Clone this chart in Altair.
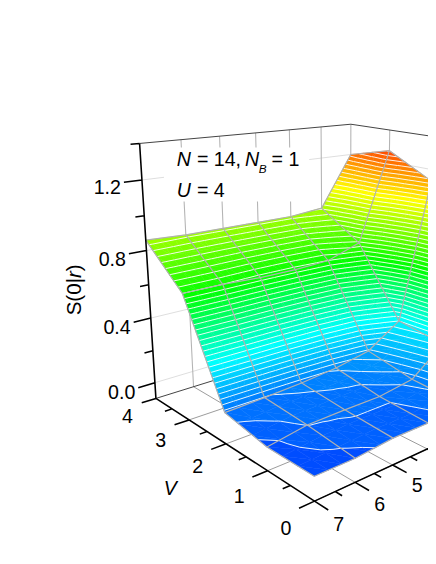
import numpy as np
import pandas as pd
import altair as alt

# ---- data ----
R_VALUES = [7, 6, 5, 4, 3, 2, 1]
V_VALUES = [4, 3, 2, 1, 0]
S_V4 = [0.86, 0.85, 0.85, 0.85, 0.85, 0.87, 1.20]
S_V3 = [0.64, 0.64, 0.63, 0.63, 0.64, 0.71, 1.27]
S_V2 = [0.08, 0.088, 0.10, 0.12, 0.16, 0.29, 1.13]
S_V1 = [0.03, 0.066, 0.07, 0.07, 0.10, 0.25, 1.00]
S_V0 = [0.03, 0.03, 0.05, 0.05, 0.08, 0.20, 0.85]
S_TICKS = [0.0, 0.4, 0.8, 1.2]
S_MINOR = [0.2, 0.6, 1.0, 1.4]
S_LABELS = ["0.0", "0.4", "0.8", "1.2"]
V_TICKS = [0, 1, 2, 3, 4]
V_MINOR = [0.5, 1.5, 2.5, 3.5]
R_TICKS = [7, 6, 5, 4, 3, 2, 1]
R_MINOR = [6.5, 5.5, 4.5, 3.5, 2.5, 1.5]
R_LABELS = [7, 6, 5]

S_LOW, S_HIGH = -0.1, 1.4
W, H = 428, 548
SHIFT_X, SHIFT_Y = -8, -8
FONT = "Liberation Sans"

# perspective camera, fitted to where the axis corners sit in the picture
CAMERA_ANCHORS = [
    (7, 4, -0.1, 159, 401), (7, 0, -0.1, 320, 504), (7, 4, 1.4, 143, 140),
    (1, 4, 1.4, 358, 122), (1, 4, -0.1, 357, 338), (6, 0, -0.1, 362, 487),
    (5, 0, -0.1, 400, 470), (7, 3, -0.1, 192, 422), (7, 2, -0.1, 230, 447),
    (7, 1, -0.1, 273, 473), (7, 4, 0.0, 158, 385), (7, 4, 0.4, 153, 320),
    (7, 4, 0.8, 149, 250), (7, 4, 1.2, 145, 178), (5, 4, 1.4, 223, 133),
    (4, 4, 1.4, 260, 130), (3, 4, 1.4, 294, 127), (2, 4, 1.4, 327, 124),
    (1, 3, 1.4, 397, 127), (6, 4, -0.1, 197, 389),
]
A, b = [], []
for r, v, s, px, py in CAMERA_ANCHORS:
    A.append([r, v, s, 1, 0, 0, 0, 0, -px * r, -px * v, -px * s]); b.append(px)
    A.append([0, 0, 0, 0, r, v, s, 1, -py * r, -py * v, -py * s]); b.append(py)
P = np.linalg.lstsq(np.array(A, float), np.array(b, float), rcond=None)[0]


def proj(r, v, s):
    w = P[8] * r + P[9] * v + P[10] * s + 1
    return (round(float((P[0] * r + P[1] * v + P[2] * s + P[3]) / w), 2),
            round(float((P[4] * r + P[5] * v + P[6] * s + P[7]) / w), 2))


STOPS = [(-0.1, (0, 0, 255)), (0.30, (0, 255, 255)), (0.62, (0, 255, 0)),
         (1.0, (255, 255, 0)), (1.37, (255, 0, 0))]


def colour(s):
    xs = [t[0] for t in STOPS]
    c = [np.interp(s, xs, [t[1][i] for t in STOPS]) for i in range(3)]
    return "#%02x%02x%02x" % tuple(int(round(x)) for x in c)


def seg(pts):
    return [list(proj(*p)) for p in pts]


def feature(kind, coords):
    return {"type": "Feature", "geometry": {"type": kind, "coordinates": coords},
            "properties": {}}


grid = np.array([S_V4, S_V3, S_V2, S_V1, S_V0])
levels = [0.0403 + 0.025 * i for i in range(56)]
edges = [-1.0] + levels + [2.0]
N_SUB = 3


def clip(poly, lo, hi):
    def cut(pts, keep, val):
        out = []
        for i in range(len(pts)):
            a, b_ = pts[i], pts[(i + 1) % len(pts)]
            ka, kb = keep(a[2]), keep(b_[2])
            if ka:
                out.append(a)
            if ka != kb:
                t = (val - a[2]) / (b_[2] - a[2])
                out.append(tuple(a[k] + t * (b_[k] - a[k]) for k in range(3)))
        return out
    pts = cut(poly, lambda z: z >= lo, lo)
    if pts:
        pts = cut(pts, lambda z: z <= hi, hi)
    return pts


fills = []
contours = []
for ci in range(len(R_VALUES) - 2, -1, -1):        # far to near
    for vi in range(len(V_VALUES) - 1):
        r0, r1 = R_VALUES[ci], R_VALUES[ci + 1]
        v0, v1 = V_VALUES[vi], V_VALUES[vi + 1]
        s00, s01, s10, s11 = grid[vi, ci], grid[vi, ci + 1], grid[vi + 1, ci], grid[vi + 1, ci + 1]

        def bil(u, t):
            return (r0 + (r1 - r0) * u, v0 + (v1 - v0) * t,
                    (1 - u) * (1 - t) * s00 + u * (1 - t) * s01 + (1 - u) * t * s10 + u * t * s11)
        for a in range(N_SUB):
            for c in range(N_SUB):
                q = [bil(a / N_SUB, c / N_SUB), bil((a + 1) / N_SUB, c / N_SUB),
                     bil((a + 1) / N_SUB, (c + 1) / N_SUB), bil(a / N_SUB, (c + 1) / N_SUB)]
                for tri in ([q[0], q[1], q[2]], [q[0], q[2], q[3]]):
                    zs = [p[2] for p in tri]
                    for i in range(len(edges) - 1):
                        lo, hi = edges[i], edges[i + 1]
                        if max(zs) < lo or min(zs) > hi:
                            continue
                        poly = clip(tri, lo, hi)
                        if len(poly) >= 3:
                            ring = seg(poly)
                            ring.append(ring[0])
                            mid = (max(lo, 0.0) + min(hi, 1.5)) / 2
                            f = feature("Polygon", [ring])
                            f["properties"]["c"] = colour(mid)
                            fills.append(f)
                    for L in levels:
                        pts = []
                        for i in range(3):
                            p, q2 = tri[i], tri[(i + 1) % 3]
                            if (p[2] - L) * (q2[2] - L) < 0:
                                t = (L - p[2]) / (q2[2] - p[2])
                                pts.append(tuple(p[k] + t * (q2[k] - p[k]) for k in range(3)))
                        if len(pts) == 2:
                            contours.append(seg(pts))

mesh = []
for vi, v in enumerate(V_VALUES):
    mesh.append(seg([(r, v, grid[vi, i]) for i, r in enumerate(R_VALUES)]))
for i, r in enumerate(R_VALUES):
    mesh.append(seg([(r, v, grid[vi, i]) for vi, v in enumerate(V_VALUES)]))

# walls and floor
wall_light = []
for s in S_TICKS:
    wall_light.append(seg([(7, 4, s), (1, 4, s), (1, 0, s)]))
wall_grey = []
for r in R_TICKS[1:]:
    wall_grey.append(seg([(r, 4, S_LOW), (r, 4, S_HIGH)]))
for v in V_TICKS[:-1]:
    wall_grey.append(seg([(1, v, S_LOW), (1, v, S_HIGH)]))
floor = []
for r in R_TICKS[1:]:
    floor.append(seg([(r, 0, S_LOW), (r, 4, S_LOW)]))
for v in V_TICKS[:-1]:
    floor.append(seg([(7, v, S_LOW), (1, v, S_LOW)]))
edges_dark = [seg([(7, 4, S_HIGH), (1, 4, S_HIGH), (1, 0, S_HIGH)]),
              seg([(7, 4, S_LOW), (1, 4, S_LOW), (1, 0, S_LOW)])]

axes = [seg([(7, 4, S_LOW), (7, 4, S_HIGH)]),
        seg([(7, 4, S_LOW), (7, 0, S_LOW)]),
        seg([(7, 0, S_LOW), (1, 0, S_LOW)])]
S_DR, V_DR, R_DV = 0.42, 0.36, 0.27
for s in S_TICKS:
    axes.append(seg([(7, 4, s), (7 + S_DR, 4, s)]))
for s in S_MINOR:
    axes.append(seg([(7, 4, s), (7 + S_DR / 2, 4, s)]))
for v in V_TICKS:
    axes.append(seg([(7, v, S_LOW), (7 + V_DR, v, S_LOW)]))
for v in V_MINOR:
    axes.append(seg([(7, v, S_LOW), (7 + V_DR / 2, v, S_LOW)]))
for r in R_TICKS:
    axes.append(seg([(r, 0, S_LOW), (r, -R_DV, S_LOW)]))
for r in R_MINOR:
    axes.append(seg([(r, 0, S_LOW), (r, -R_DV / 2, S_LOW)]))


def lines(paths, colour_, width, opacity=1.0):
    return alt.Chart(alt.Data(values=[feature("MultiLineString", paths)])).mark_geoshape(
        filled=False, stroke=colour_, strokeWidth=width, opacity=opacity, clip=True,
        strokeCap="butt", strokeJoin="miter")


box = alt.Chart(alt.Data(values=[feature(
    "Polygon", [[[167, 145], [315, 145], [315, 200], [167, 200], [167, 145]]])])).mark_geoshape(
    fill="white", stroke=None, clip=True)

surface = alt.Chart(alt.Data(values=fills)).mark_geoshape(clip=True, strokeWidth=0.5).encode(
    fill=alt.Fill("properties.c:N", scale=None),
    stroke=alt.Stroke("properties.c:N", scale=None))

# texts
rows = []
for s, lab in zip(S_TICKS, S_LABELS):
    x, y = proj(7 + S_DR, 4, s)
    rows.append(dict(x=x - 3, y=y + 6, t=lab, a="right", st="normal", base="middle", size=20, angle=0))
for v in V_TICKS:
    x, y = proj(7, v, S_LOW)
    rows.append(dict(x=x - 29, y=y + 19 + 2.5 * (4 - v), t=str(v), a="center", st="normal", base="middle", size=20, angle=0))
for r in R_LABELS:
    x, y = proj(r, -0.47, S_LOW)
    rows.append(dict(x=x, y=y + 8, t=str(r), a="center", st="normal", base="middle", size=20, angle=0))
rows += [
    dict(x=173.5, y=493, t="V", a="center", st="italic", base="middle", size=20, angle=0),
    dict(x=180, y=164, t="N", a="left", st="italic", base="alphabetic", size=20, angle=0),
    dict(x=200.5, y=164, t="= 14,", a="left", st="normal", base="alphabetic", size=20, angle=0),
    dict(x=249.5, y=164, t="N", a="left", st="italic", base="alphabetic", size=20, angle=0),
    dict(x=263.5, y=171, t="B", a="left", st="italic", base="alphabetic", size=12, angle=0),
    dict(x=276.5, y=164, t="= 1", a="left", st="normal", base="alphabetic", size=20, angle=0),
    dict(x=180, y=195, t="U", a="left", st="italic", base="alphabetic", size=20, angle=0),
    dict(x=200.5, y=195, t="= 4", a="left", st="normal", base="alphabetic", size=20, angle=0),
    dict(x=82, y=316, t="S(0|", a="left", st="normal", base="alphabetic", size=21, angle=270),
    dict(x=82, y=278, t="r", a="left", st="italic", base="alphabetic", size=21, angle=270),
    dict(x=82, y=271, t=")", a="left", st="normal", base="alphabetic", size=21, angle=270),
]
frame = pd.DataFrame(rows)
text_layers = []
for (a, st, base, size, angle), sub in frame.groupby(["a", "st", "base", "size", "angle"]):
    text_layers.append(
        alt.Chart(sub).mark_text(align=a, fontStyle=st, baseline=base, fontSize=int(size),
                                 angle=int(angle), font=FONT, color="black", clip=True).encode(
            longitude="x:Q", latitude="y:Q", text="t:N"))

chart = alt.layer(
    lines(wall_light, "#dddddd", 1),
    lines(wall_grey, "#b4b4b4", 1.1),
    lines(floor, "#9a9a9a", 1),
    lines(edges_dark, "#404040", 1),
    box,
    surface,
    lines(contours, "#ffffff", 1, 0.9),
    lines(mesh, "#b0b0b0", 1.2),
    lines(axes, "#000000", 1.6),
    *text_layers,
).project(type="identity", scale=1, translate=[SHIFT_X, SHIFT_Y]).properties(
    width=W, height=H, padding=0
).configure_view(stroke=None)

chart.save("out.html", embed_options={"renderer": "svg", "actions": False})
